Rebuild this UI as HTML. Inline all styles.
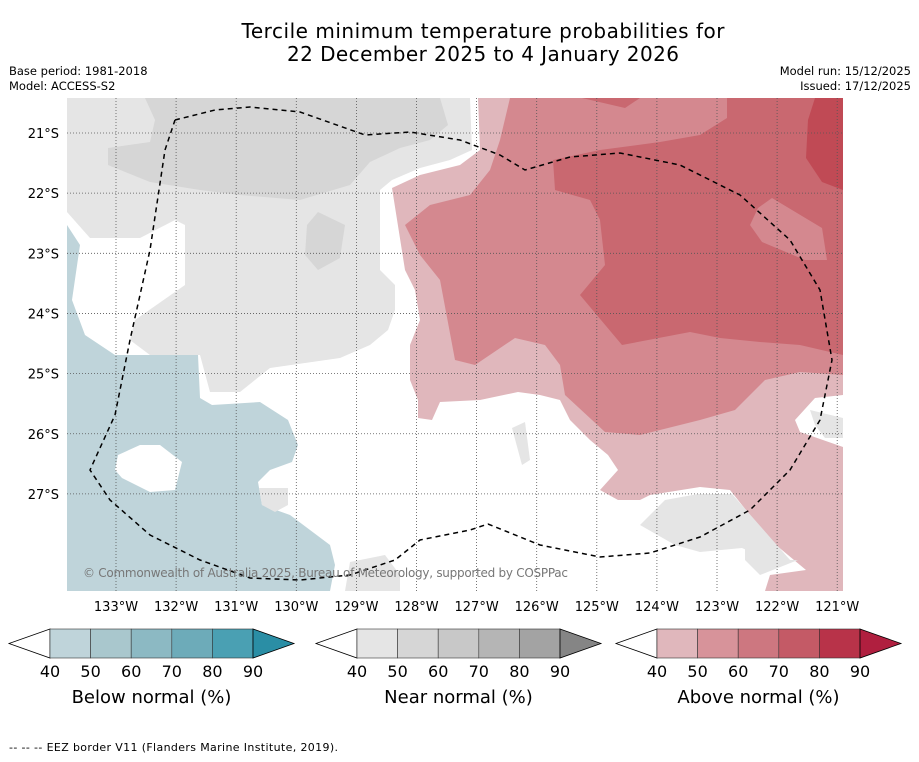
<!DOCTYPE html>
<html><head><meta charset="utf-8"><style>
body{margin:0;background:#fff;width:919px;height:758px;overflow:hidden;font-family:"DejaVu Sans","Liberation Sans",sans-serif}
svg text{font-family:"DejaVu Sans","Liberation Sans",sans-serif}
</style></head><body>
<svg width="919" height="758" viewBox="0 0 919 758">
<rect width="919" height="758" fill="#fff"/>
<text x="483" y="38" font-size="20" text-anchor="middle" textLength="483">Tercile minimum temperature probabilities for</text>
<text x="483" y="61" font-size="20" text-anchor="middle" textLength="392">22 December 2025 to 4 January 2026</text>
<text x="9" y="75" font-size="11.5">Base period: 1981-2018</text>
<text x="9" y="90" font-size="11.5">Model: ACCESS-S2</text>
<text x="911" y="75" font-size="11.5" text-anchor="end">Model run: 15/12/2025</text>
<text x="911" y="90" font-size="11.5" text-anchor="end">Issued: 17/12/2025</text>
<defs><clipPath id="mc"><rect x="67" y="98" width="776" height="493"/></clipPath></defs>
<g clip-path="url(#mc)">
<polygon fill="#e5e5e5" points="67,98 470,98 472,150 450,160 420,168 392,180 380,190 380,270 395,285 395,310 388,330 370,345 340,358 270,368 240,392 210,392 200,355 150,355 130,340 135,320 185,285 185,225 175,220 140,238 90,238 67,212"/>
<polygon fill="#d6d6d6" points="145,98 440,98 448,125 430,140 400,148 370,162 350,185 300,200 240,195 200,190 150,182 108,165 108,148 150,142 155,120"/>
<polygon fill="#d6d6d6" points="318,212 345,225 340,258 318,270 305,255 307,225"/>
<polygon fill="#bfd4da" points="67,225 80,245 72,300 85,335 115,355 198,355 200,398 212,405 260,402 288,420 298,445 292,462 270,470 258,482 262,505 290,515 310,530 330,545 335,565 330,591 67,591"/>
<polygon fill="#fff" points="118,455 140,445 160,445 182,462 175,490 150,492 122,478 115,470"/>
<polygon fill="#e5e5e5" points="259,488 288,488 288,505 275,512 262,505"/>
<polygon fill="#e5e5e5" points="350,562 385,555 400,575 400,591 345,591"/>
<polygon fill="#e5e5e5" points="512,428 525,422 530,460 522,465"/>
<polygon fill="#e0b7bc" points="478,98 843,98 843,395 815,398 795,420 800,432 843,447 843,591 765,591 770,575 806,570 770,540 730,490 700,487 650,495 640,500 618,500 600,490 618,470 608,455 590,440 570,420 560,400 540,395 518,392 480,400 440,402 432,420 418,418 418,400 410,380 410,345 420,320 415,290 405,270 392,188 420,175 460,165 480,150"/>
<polygon fill="#d4888f" points="510,98 843,98 843,375 800,372 765,380 735,410 700,420 640,435 605,432 565,395 560,365 545,345 515,338 475,365 455,360 440,280 420,255 405,225 430,205 470,195 490,170 500,140"/>
<polygon fill="#c96870" points="727,98 843,98 843,355 800,345 760,342 720,338 690,332 622,345 580,295 605,265 600,220 590,200 555,190 553,160 600,150 660,142 700,135 727,118"/>
<polygon fill="#c96870" points="582,98 640,98 625,108"/>
<polygon fill="#d4888f" points="758,208 772,198 822,228 827,260 805,260 762,242 750,225"/>
<polygon fill="#c04a55" points="815,98 843,98 843,190 822,182 806,158 808,120"/>
<polygon fill="#e5e5e5" points="640,525 665,500 698,494 732,494 790,560 758,555 742,548 700,552 675,545"/>
<polygon fill="#e5e5e5" points="810,410 843,418 843,438 825,438 815,425"/>
<polygon fill="#e5e5e5" points="745,520 790,560 798,560 760,575 745,560"/>
</g>
<g stroke="#555" stroke-width="0.8" stroke-dasharray="1,2" fill="none" id="grid"></g>
<polyline fill="none" stroke="#000" stroke-width="1.5" stroke-dasharray="5,4" points="175,120 215,110 250,107 300,112 365,135 410,132 460,140 500,155 525,170 570,157 620,153 680,165 740,195 790,240 820,290 832,360 820,420 790,470 750,510 700,537 650,553 600,557 540,545 488,524 470,530 420,540 395,560 350,575 300,580 250,578 200,560 150,535 110,500 90,470 115,415 130,340 150,250 165,150 175,120"/>
<text x="83" y="577" font-size="12" fill="#777" textLength="485">© Commonwealth of Australia 2025, Bureau of Meteorology, supported by COSPPac</text>
<g id="axes"></g>
<g id="cbars"></g>
<text x="9" y="751" font-size="11" textLength="329">--  --  -- EEZ border V11 (Flanders Marine Institute, 2019).</text>
</svg>
<script>
const lonTicks=[133,132,131,130,129,128,127,126,125,124,123,122,121];
const latTicks=[21,22,23,24,25,26,27];
const cbLevels=[40,50,60,70,80,90];
const blueColors=["#bfd4da","#a9c7cd","#8cb9c3","#6dabb9","#4aa0b3"];
const grayColors=["#e5e5e5","#d6d6d6","#c8c8c8","#b5b5b5","#a3a3a3"];
const redColors=["#e0b7bc","#d7939a","#cd7780","#c45a66","#b83349"];
const NS="http://www.w3.org/2000/svg";
function xLon(l){return 116+(133-l)*60.1;}
function yLat(l){return 133+(l-21)*60.15;}
function mk(t,a,p){const e=document.createElementNS(NS,t);for(const k in a)e.setAttribute(k,a[k]);p.appendChild(e);return e;}
const grid=document.getElementById('grid'),axes=document.getElementById('axes'),cb=document.getElementById('cbars');
lonTicks.forEach(l=>{const x=xLon(l);
 const g=mk('line',{x1:x,x2:x,y1:98,y2:591},grid);
 
 
 const t=mk('text',{x:x,y:611,'font-size':13,'text-anchor':'middle'},axes);t.textContent=l+'°W';
 
 });
latTicks.forEach(l=>{const y=yLat(l);
 const g=mk('line',{x1:67,x2:843,y1:y,y2:y},grid);
 
 
 const t=mk('text',{x:59,y:y+5,'font-size':13,'text-anchor':'end'},axes);t.textContent=l+'°S';
 
 });
function bar(x0,colors,tri,label,name){
 const w=40.6,y0=629,h=29,x1=x0+w*colors.length;
 const l=mk('polygon',{points:`${x0},${y0} ${x0-41},${y0+h/2} ${x0},${y0+h}`,fill:'#fff',stroke:'#000','stroke-width':0.8},cb);
 
 
 colors.forEach((c,i)=>{const r=mk('rect',{x:x0+i*w,y:y0,width:w,height:h,fill:c,stroke:'#333','stroke-width':0.6},cb);
  
  });
 const tr=mk('polygon',{points:`${x1},${y0} ${x1+41},${y0+h/2} ${x1},${y0+h}`,fill:tri,stroke:'#000','stroke-width':0.8},cb);
 
 
 cbLevels.forEach((v,i)=>{const t=mk('text',{x:x0+i*w,y:677,'font-size':16,'text-anchor':'middle'},cb);t.textContent=v;
  
  });
 const t=mk('text',{x:(x0+x1)/2,y:703,'font-size':18,'text-anchor':'middle'},cb);t.textContent=label;
 
 
}
bar(50,blueColors,'#2a8ea5','Below normal (%)','below-normal-colorbar');
bar(357,grayColors,'#858585','Near normal (%)','near-normal-colorbar');
bar(657,redColors,'#b01f3f','Above normal (%)','above-normal-colorbar');
</script>
</body></html>
